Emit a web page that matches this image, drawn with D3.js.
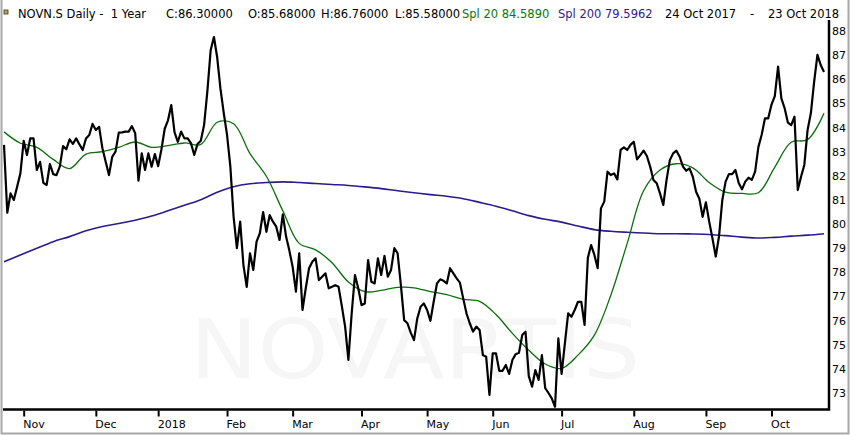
<!DOCTYPE html>
<html>
<head>
  <meta charset="utf-8">
  <title>NOVN.S Daily</title>
  <script src="https://cdn.jsdelivr.net/npm/d3@7"></script>
  <style>
    body { margin: 0; background: #fff; }
    svg text { font-family: "DejaVu Sans", sans-serif; }
  </style>
</head>
<body>
<script>
// daily closes, 24 Oct 2017 .. 23 Oct 2018 (trading day index 0..250)
var closes = [
  83.28, 80.47, 81.27, 81.00, 81.55, 82.10, 83.45, 82.86, 83.55, 83.55,
  82.24, 82.58, 81.71, 81.62, 82.49, 82.07, 82.03, 82.38, 83.23, 83.10,
  83.51, 83.32, 83.55, 83.30, 83.07, 83.55, 83.69, 84.15, 83.90, 84.03,
  83.14, 82.58, 82.03, 82.79, 83.00, 83.79, 83.80, 83.83, 83.83, 84.06,
  83.76, 81.80, 82.93, 82.24, 82.93, 82.38, 82.90, 82.40, 83.10, 83.95,
  84.30, 84.93, 83.80, 83.41, 83.83, 83.55, 83.55, 83.35, 82.86, 83.32,
  83.45, 84.10, 85.50, 87.20, 87.75, 86.90, 85.60, 84.60, 83.70, 82.40,
  80.30, 79.00, 80.10, 78.30, 77.40, 78.79, 78.10, 79.27, 79.62, 80.50,
  79.68, 80.37, 80.10, 79.89, 79.34, 80.40, 79.48, 78.90, 78.23, 77.20,
  78.79, 76.44, 77.34, 78.17, 78.44, 78.58, 77.68, 77.82, 77.96, 77.34,
  77.40, 77.47, 77.40, 76.60, 75.75, 74.37, 76.30, 77.89, 77.34, 76.64,
  76.71, 78.51, 77.61, 77.54, 78.58, 77.89, 78.68, 77.82, 78.10, 79.00,
  78.79, 77.47, 76.02, 75.89, 75.50, 75.19, 76.09, 76.57, 76.71, 76.44,
  75.99, 76.78, 77.54, 77.71, 77.65, 77.54, 78.17, 77.96, 77.75, 77.57,
  76.92, 76.30, 75.89, 75.54, 75.75, 75.61, 74.57, 74.50, 72.92, 74.64,
  74.64, 73.92, 73.92, 74.16, 73.79, 74.37, 74.61, 74.67, 75.40, 75.54,
  73.70, 73.26, 73.95, 73.54, 74.57, 73.20, 73.00, 72.78, 72.43, 75.26,
  73.79, 75.06, 76.30, 76.16, 76.44, 76.78, 76.78, 75.82, 78.60, 79.13,
  78.72, 78.17, 80.65, 80.93, 82.17, 82.03, 82.10, 81.85, 83.07, 83.18,
  83.07, 83.28, 83.41, 82.68, 82.86, 83.04, 82.82, 82.38, 81.83, 81.69,
  81.27, 80.79, 81.83, 82.65, 82.93, 83.04, 82.79, 82.38, 82.21, 82.31,
  81.96, 81.34, 81.05, 80.30, 80.90, 80.10, 79.40, 78.65, 79.50, 81.00,
  81.76, 82.07, 82.07, 82.24, 81.70, 81.44, 81.76, 81.92, 81.83, 82.17,
  83.20, 83.70, 84.38, 84.38, 84.95, 85.30, 86.52, 85.21, 84.80, 84.20,
  84.10, 84.45, 81.41, 81.96, 82.45, 83.90, 84.60, 85.90, 87.01, 86.59,
  86.30
];

// moving averages read every 5 trading days
var maDays = [0, 5, 10, 15, 20, 25, 30, 35, 40, 45, 50, 55, 60, 65, 70, 75, 80,
  85, 90, 95, 100, 105, 110, 115, 120, 125, 130, 135, 140, 145, 150, 155, 160,
  165, 170, 175, 180, 185, 190, 195, 200, 205, 210, 215, 220, 225, 230, 235,
  240, 245, 250];
var spl20 = [83.82, 83.35, 83.18, 82.68, 82.30, 82.90, 83.00, 83.18, 83.40,
  83.18, 83.25, 83.36, 83.30, 84.22, 84.16, 82.92, 81.98, 80.55, 79.20, 78.93,
  78.40, 77.60, 77.20, 77.25, 77.38, 77.36, 77.20, 77.08, 76.88, 76.80, 76.25,
  75.47, 74.77, 74.20, 74.02, 74.57, 75.40, 77.05, 79.20, 81.38, 82.24, 82.50,
  82.33, 81.72, 81.32, 81.27, 81.30, 82.36, 83.39, 83.50, 84.59];
var spl200 = [78.44, 78.72, 79.00, 79.27, 79.48, 79.72, 79.90, 80.02, 80.16,
  80.33, 80.55, 80.78, 81.01, 81.32, 81.55, 81.67, 81.72, 81.75, 81.72, 81.68,
  81.64, 81.60, 81.54, 81.47, 81.38, 81.30, 81.22, 81.15, 81.05, 80.90, 80.74,
  80.55, 80.35, 80.20, 80.08, 79.92, 79.77, 79.70, 79.66, 79.63, 79.60, 79.60,
  79.59, 79.57, 79.52, 79.46, 79.42, 79.45, 79.50, 79.54, 79.60];

// month starts on the trading day axis
var monthLabels = ["Nov", "Dec", "2018", "Feb", "Mar", "Apr", "May", "Jun", "Jul", "Aug", "Sep", "Oct"];
var monthDays = [6, 28, 47, 68, 88, 109, 129, 149, 170, 192, 214, 234];
var yTicks = [73, 74, 75, 76, 77, 78, 79, 80, 81, 82, 83, 84, 85, 86, 87, 88];

var width = 850, height = 435;
var plot = { left: 3, right: 829, top: 20, bottom: 409.5 };

var svg = d3.select("body").append("svg")
  .attr("width", width).attr("height", height);

var x = d3.scaleLinear().domain([0, 250]).range([4, 824]);
var y = d3.scaleLinear().domain([73, 88]).range([393, 31]);

// outer frame
svg.append("path")
  .attr("d", "M1.5,0 V433.5 H848.5 V0")
  .attr("fill", "none").attr("stroke", "#a8a8a8").attr("stroke-width", 2);

// watermark
svg.append("text")
  .attr("x", 190).attr("y", 378)
  .attr("textLength", 450).attr("lengthAdjust", "spacingAndGlyphs")
  .attr("font-size", 82).attr("fill", "#f6f6f6")
  .text("NOVARTIS");

// header
var head = svg.append("text").attr("y", 18).attr("font-size", "11.5px").attr("fill", "#000");
[["NOVN.S Daily -  1 Year", 18, "#000"],
 ["C:86.30000", 166, "#000"], ["O:85.68000", 248, "#000"],
 ["H:86.76000", 321, "#000"], ["L:85.58000", 395, "#000"],
 ["Spl 20 84.5890", 462, "#0a780a"], ["Spl 200 79.5962", 558, "#33198c"],
 ["24 Oct 2017", 665, "#000"], ["-", 750, "#000"], ["23 Oct 2018", 768, "#000"]
].forEach(function(p) {
  head.append("tspan").attr("x", p[1]).attr("fill", p[2]).attr("xml:space", "preserve").text(p[0]);
});
svg.append("rect").attr("x", 4).attr("y", 10).attr("width", 4).attr("height", 4)
  .attr("fill", "#b8a838").attr("stroke", "#333").attr("stroke-width", 0.8);

// axes
var xAxis = d3.axisBottom(x).tickValues(monthDays)
  .tickFormat(function(d, i) { return monthLabels[i]; })
  .tickSize(6).tickSizeOuter(0);
var gx = svg.append("g")
  .attr("transform", "translate(0," + (plot.bottom + 1) + ")")
  .call(xAxis);
gx.select(".domain").remove();
gx.selectAll(".tick line").attr("stroke", "#000").attr("stroke-width", 2);
gx.selectAll(".tick text")
  .attr("text-anchor", "start").attr("x", -1).attr("y", 10).attr("dy", "0.71em")
  .attr("fill", "#000").attr("font-size", "11px").attr("font-family", "DejaVu Sans");

var yAxis = d3.axisRight(y).tickValues(yTicks).tickSize(0);
var gy = svg.append("g")
  .attr("transform", "translate(" + plot.right + ",0)")
  .call(yAxis);
gy.select(".domain").remove();
gy.selectAll(".tick text")
  .attr("x", 3).attr("fill", "#000").attr("font-size", "11px").attr("font-family", "DejaVu Sans");

svg.append("path")
  .attr("d", "M" + plot.left + "," + plot.bottom + " H" + plot.right + " V" + plot.top)
  .attr("fill", "none").attr("stroke", "#000").attr("stroke-width", 2.5);

// series
var maLine = function(vals) {
  return d3.line()
    .x(function(d, i) { return x(maDays[i]); })
    .y(function(d) { return y(d); })
    .curve(d3.curveCatmullRom.alpha(0.5))(vals);
};

svg.append("path")
  .attr("d", maLine(spl200))
  .attr("fill", "none").attr("stroke", "#2e1a8e").attr("stroke-width", 1.6);

svg.append("path")
  .attr("d", maLine(spl20))
  .attr("fill", "none").attr("stroke", "#0b6e0b").attr("stroke-width", 1.3);

svg.append("path")
  .datum(closes)
  .attr("fill", "none").attr("stroke", "#000").attr("stroke-width", 2.2)
  .attr("stroke-linejoin", "round")
  .attr("d", d3.line()
    .x(function(d, i) { return x(i); })
    .y(function(d) { return y(d); }));
</script>
</body>
</html>
